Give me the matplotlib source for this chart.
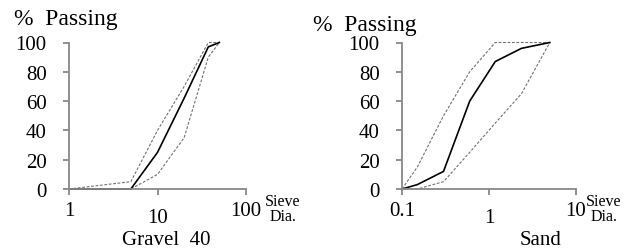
import matplotlib
matplotlib.use("Agg")
import matplotlib.pyplot as plt

plt.rcParams["font.family"] = ["Liberation Serif", "DejaVu Serif"]

# gravel 40 mm grading
gravel_sieve = [1, 5, 10, 20, 37.5, 50]
gravel_pass = [0, 0, 25, 62, 97, 100]
gravel_upper = [0, 5, 40, 70, 100, 100]
gravel_lower = [0, 0, 10, 35, 90, 100]
gravel_ticks = [1, 10, 100]
gravel_ticklabels = ["1", "10", "100"]

# sand grading
sand_sieve = [0.1, 0.15, 0.3, 0.6, 1.18, 2.36, 5]
sand_pass = [0, 3, 12, 60, 87, 96, 100]
sand_upper = [0, 15, 50, 80, 100, 100, 100]
sand_lower = [0, 0, 5, 25, 45, 65, 100]
sand_ticks = [0.1, 1, 10]
sand_ticklabels = ["0.1", "1", "10"]

y_ticks = [0, 20, 40, 60, 80, 100]

W, H = 636, 253
fig = plt.figure(figsize=(W / 100, H / 100), dpi=100)

AXC = "#888888"


def panel(rect, x, main, upper, lower, ticks, ticklabels, xlim):
    ax = fig.add_axes(rect)
    ax.plot(x, upper, color="#707070", lw=0.8, ls=(0, (2.5, 1.5)))
    ax.plot(x, lower, color="#707070", lw=0.8, ls=(0, (2.5, 1.5)))
    ax.plot(x, main, color="black", lw=1.2)
    ax.set_xscale("log")
    ax.set_xlim(*xlim)
    ax.set_ylim(0, 100)
    ax.set_xticks(ticks)
    ax.set_xticklabels(ticklabels)
    ax.minorticks_off()
    ax.set_yticks(y_ticks)
    for s in ("top", "right"):
        ax.spines[s].set_visible(False)
    for s in ("left", "bottom"):
        ax.spines[s].set_color(AXC)
        ax.spines[s].set_linewidth(1.3)
    ax.tick_params(axis="both", colors=AXC, length=4, width=1.3,
                   labelsize=15, labelcolor="black")
    ax.tick_params(axis="y", pad=12)
    ax.tick_params(axis="x", pad=5)
    # middle x label sits a little lower in the original
    ax.xaxis.get_major_ticks()[1].set_pad(10)
    for ln in ax.lines:
        ln.set_clip_on(False)
    return ax


def px(x, y):
    return x / W, 1 - y / H


bottom = (H - 190) / H
height = 146.5 / H
panel([69 / W, bottom, 177 / W, height], gravel_sieve, gravel_pass,
      gravel_upper, gravel_lower, gravel_ticks, gravel_ticklabels, (1, 100))
panel([402 / W, bottom, 174 / W, height], sand_sieve, sand_pass,
      sand_upper, sand_lower, sand_ticks, sand_ticklabels, (0.1, 10))

fig.text(*px(14, 25), "%  Passing", fontsize=17, va="baseline")
fig.text(*px(313, 31), "%  Passing", fontsize=17, va="baseline")
for xc in (283, 604):
    fig.text(*px(xc, 194), "Sieve\nDia.", fontsize=11.5, ha="center",
             va="top", multialignment="center", linespacing=0.95)
fig.text(*px(166, 245), "Gravel  40", fontsize=15, ha="center", va="baseline")
fig.text(*px(541, 245), "Sand", fontsize=15, ha="center", va="baseline")

fig.savefig("out.png", dpi=100)
